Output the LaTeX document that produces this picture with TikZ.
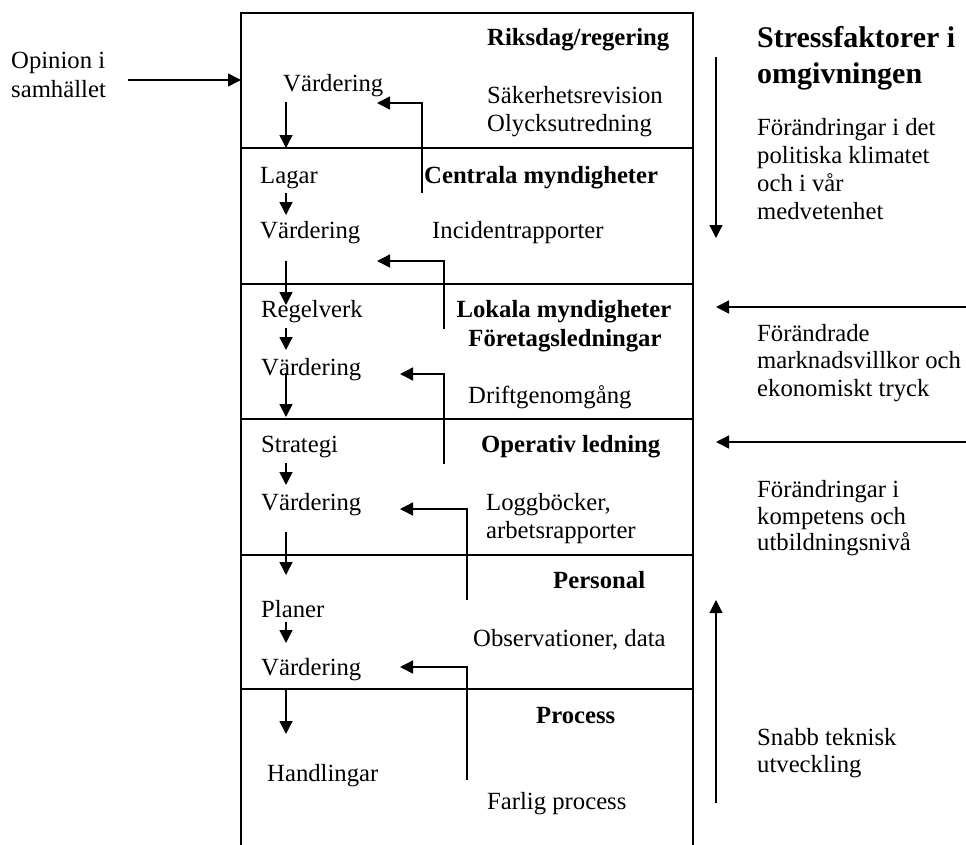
\documentclass[tikz,border=0pt]{standalone}
\usepackage{fontspec}
\setmainfont{Liberation Serif}
\usetikzlibrary{arrows.meta}
\begin{document}
\begin{tikzpicture}[x=1pt,y=-1pt,
  txt/.style={inner sep=0pt, anchor=base west, font=\fontsize{24.7}{28}\selectfont},
  bold/.style={inner sep=0pt, anchor=base west, font=\fontsize{24.7}{28}\selectfont\bfseries},
  head/.style={inner sep=0pt, anchor=base west, font=\fontsize{30}{34}\selectfont\bfseries},
  frame/.style={line width=2pt},
  flow/.style={line width=1.5pt, -{Triangle[length=13pt,width=13pt]}},
  thinflow/.style={line width=1.2pt, -{Triangle[length=13pt,width=13pt]}}]
\useasboundingbox (0,0) rectangle (966,844);

% outer frame (open at the bottom) and level dividers
\draw[frame] (241,850) -- (241,13) -- (693,13) -- (693,850);
\foreach \yy in {148,284,419,555,689}
  \draw[frame] (241,\yy) -- (693,\yy);

% ---- external input on the left
\node[txt] (op1) at (11,68) {Opinion i};
\node[txt] (op2) at (11,97) {samhället};
\coordinate (opS) at (128,80);
\coordinate (opE) at (241,80);
\draw[flow] (opS) -- (opE);

% ---- level 1: Riksdag/regering
\node[bold] (l1) at (487,45) {Riksdag/regering};
\node[txt] (v1) at (283,91) {Värdering};
\node[txt] (s1a) at (487,103) {Säkerhetsrevision};
\node[txt] (s1b) at (487,131) {Olycksutredning};

% ---- level 2: Centrala myndigheter
\node[txt] (lagar) at (260,183) {Lagar};
\node[bold] (l2) at (424,183) {Centrala myndigheter};
\node[txt] (v2) at (260,238) {Värdering};
\node[txt] (s2) at (432,238) {Incidentrapporter};

% ---- level 3: Lokala myndigheter / Företagsledningar
\node[txt] (regel) at (261,317) {Regelverk};
\node[bold, anchor=base] (l3a) at (564,317) {Lokala myndigheter};
\node[bold, anchor=base] (l3b) at (565,346) {Företagsledningar};
\node[txt] (v3) at (261,375) {Värdering};
\node[txt] (s3) at (468,403) {Driftgenomgång};

% ---- level 4: Operativ ledning
\node[txt] (strat) at (261,452) {Strategi};
\node[bold] (l4) at (481,452) {Operativ ledning};
\node[txt] (v4) at (261,510) {Värdering};
\node[txt] (s4a) at (486,510) {Loggböcker,};
\node[txt] (s4b) at (486,538) {arbetsrapporter};

% ---- level 5: Personal
\node[bold] (l5) at (553,588) {Personal};
\node[txt] (plan) at (261,617) {Planer};
\node[txt] (s5) at (473,646) {Observationer, data};
\node[txt] (v5) at (261,675) {Värdering};

% ---- level 6: Process
\node[bold] (l6) at (536,723) {Process};
\node[txt] (hand) at (267,781) {Handlingar};
\node[txt] (s6) at (487,809) {Farlig process};

% ---- downward chain on the left
\coordinate (d1s) at (286,102); \coordinate (d1e) at (286,148);
\coordinate (d2s) at (286,193); \coordinate (d2e) at (286,215);
\coordinate (d3s) at (286,261); \coordinate (d3e) at (286,305);
\coordinate (d4s) at (286,328); \coordinate (d4e) at (286,350);
\coordinate (d5s) at (286,373); \coordinate (d5e) at (286,417);
\coordinate (d6s) at (286,463); \coordinate (d6e) at (286,485);
\coordinate (d7s) at (286,532); \coordinate (d7e) at (286,575);
\coordinate (d8s) at (286,622); \coordinate (d8e) at (286,643);
\coordinate (d9s) at (286,690); \coordinate (d9e) at (286,734);
\foreach \i in {1,...,9}
  \draw[flow] (d\i s) -- (d\i e);

% ---- feedback from each level to the evaluation above
\coordinate (f1s) at (422,193); \coordinate (f1e) at (377,103);
\coordinate (f2s) at (444,329); \coordinate (f2e) at (377,261);
\coordinate (f3s) at (444,464); \coordinate (f3e) at (400,374);
\coordinate (f4s) at (467,600); \coordinate (f4e) at (400,509);
\coordinate (f5s) at (467,780); \coordinate (f5e) at (400,667);
\foreach \i in {1,...,5}
  \draw[flow] (f\i s) |- (f\i e);

% ---- environmental stress factors on the right
\node[head] (h1) at (757,47) {Stressfaktorer i};
\node[head] (h2) at (757,83) {omgivningen};
\node[txt] (p1) at (757,135) {Förändringar i det};
\node[txt] (p2) at (757,163) {politiska klimatet};
\node[txt] (p3) at (757,191) {och i vår};
\node[txt] (p4) at (757,219) {medvetenhet};
\coordinate (pS) at (716,57); \coordinate (pE) at (716,238);
\draw[thinflow] (pS) -- (pE);

\coordinate (mS) at (968,307); \coordinate (mE) at (716,307);
\draw[flow] (mS) -- (mE);
\node[txt] (m1) at (757,341) {Förändrade};
\node[txt] (m2) at (757,368) {marknadsvillkor och};
\node[txt] (m3) at (757,396) {ekonomiskt tryck};

\coordinate (kS) at (968,442); \coordinate (kE) at (716,442);
\draw[flow] (kS) -- (kE);
\node[txt] (k1) at (757,497) {Förändringar i};
\node[txt] (k2) at (757,524) {kompetens och};
\node[txt] (k3) at (757,550) {utbildningsnivå};

\coordinate (tS) at (716,803); \coordinate (tE) at (716,600);
\draw[thinflow] (tS) -- (tE);
\node[txt] (t1) at (757,745) {Snabb teknisk};
\node[txt] (t2) at (757,772) {utveckling};
\end{tikzpicture}
\end{document}
